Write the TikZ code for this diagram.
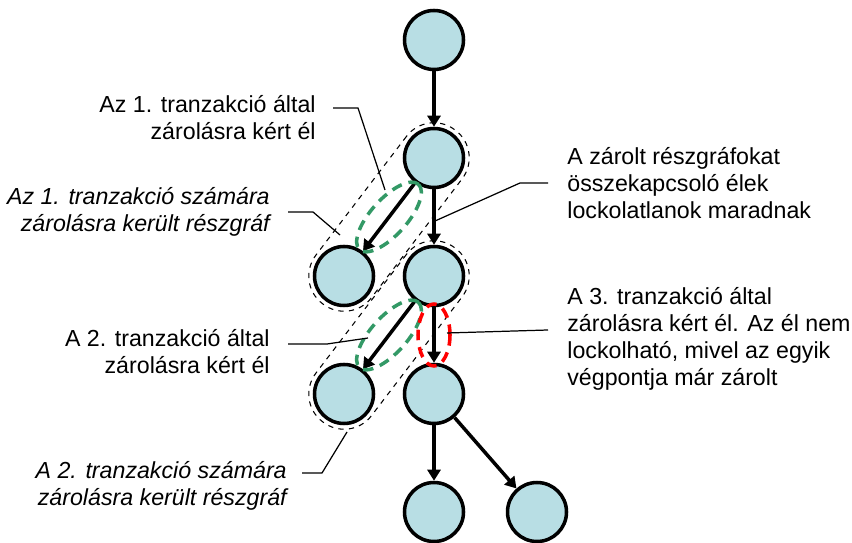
\documentclass[tikz,border=0pt]{standalone}
\usepackage{fontspec}
\setmainfont{Liberation Sans}
\usetikzlibrary{arrows.meta,calc}

\definecolor{nodefill}{RGB}{184,222,228}
\definecolor{lockgreen}{RGB}{51,153,102}

\begin{document}
\begin{tikzpicture}[
  >={Triangle[length=2.2mm,width=2.6mm]},
  vertex/.style={draw, circle, fill=nodefill, line width=2pt, minimum size=1.18cm, inner sep=0pt},
  edge/.style={draw, line width=2pt, ->},
  band/.style={draw, dashed, line width=0.6pt, rounded corners=0.69cm, minimum width=4.37cm, minimum height=1.4cm, rotate=52.67},
  lock/.style={line width=2pt, dash pattern=on 6pt off 4pt},
  leader/.style={draw, line width=0.7pt},
  note/.style={inner sep=0pt, font=\fontsize{13.2pt}{15.4pt}\selectfont}
]
\useasboundingbox (0,0) rectangle (17.04,10.86);

% the tree
\node[vertex] (1) at (8.68,10.06) {};
\node[vertex] (2) at (8.68,7.70) {};
\node[vertex] (3) at (6.88,5.34) {};
\node[vertex] (4) at (8.68,5.34) {};
\node[vertex] (5) at (6.88,2.98) {};
\node[vertex] (6) at (8.68,2.98) {};
\node[vertex] (7) at (8.68,0.62) {};
\node[vertex] (8) at (10.74,0.62) {};

\path[edge] (1) -- (2);
\path[edge] (2) -- (3);
\path[edge] (2) -- (4);
\path[edge] (4) -- (5);
\path[edge] (4) -- (6);
\path[edge] (6) -- (7);
\path[edge] (6) -- (8);

% locked subgraphs
\node[band] (b1) at ($(2)!0.5!(3)$) {};
\node[band] (b2) at ($(4)!0.5!(5)$) {};

% requested edges
\draw[lock, lockgreen, shift={($(2)!0.5!(3)$)}, rotate=48] (0,0) ellipse (0.88cm and 0.36cm);
\draw[lock, lockgreen, shift={($(4)!0.5!(5)$)}, rotate=48] (0,0) ellipse (0.88cm and 0.36cm);
\draw[lock, red] ($(4)!0.5!(6)$) ellipse (0.32cm and 0.62cm);

% notes
\node[note, anchor=east, align=right] (t1) at (6.32,8.50) {Az 1. tranzakció által\\zárolásra kért él};
\node[note, anchor=east, align=right, font=\fontsize{13.2pt}{15.4pt}\selectfont\itshape] (t2) at (5.40,6.62) {Az 1. tranzakció számára\\zárolásra került részgráf};
\node[note, anchor=west, align=left] (t3) at (11.34,7.20) {A zárolt részgráfokat\\összekapcsoló élek\\lockolatlanok maradnak};
\node[note, anchor=west, align=left] (t4) at (11.34,4.09) {A 3. tranzakció által\\zárolásra kért él. Az él nem\\lockolható, mivel az egyik\\végpontja már zárolt};
\node[note, anchor=east, align=right] (t5) at (5.40,3.82) {A 2. tranzakció által\\zárolásra kért él};
\node[note, anchor=east, align=right, font=\fontsize{13.2pt}{15.4pt}\selectfont\itshape] (t6) at (5.74,1.14) {A 2. tranzakció számára\\zárolásra került részgráf};

\coordinate (p1) at (7.70,7.06);
\coordinate (p2) at (6.80,6.16);
\coordinate (p3) at (8.70,6.44);
\coordinate (p4) at (8.94,4.20);
\coordinate (p5) at (7.36,4.10);
\coordinate (p6) at (6.94,2.22);

\path[leader] ([shift={(0.34,0.2)}]t1.east) -- ++(0.5,0) -- (p1);
\path[leader] ([shift={(0.36,0)}]t2.east) -- ++(0.5,0) -- (p2);
\path[leader] ([shift={(-0.38,0)}]t3.west) -- ++(-0.56,0) -- (p3);
\path[leader] ([shift={(-0.38,0.17)}]t4.west) -- (p4);
\path[leader] ([shift={(0.36,0.16)}]t5.east) -- ++(0.78,0) -- (p5);
\path[leader] ([shift={(0.30,0.26)}]t6.east) -- ++(0.4,0) -- (p6);
\end{tikzpicture}
\end{document}
